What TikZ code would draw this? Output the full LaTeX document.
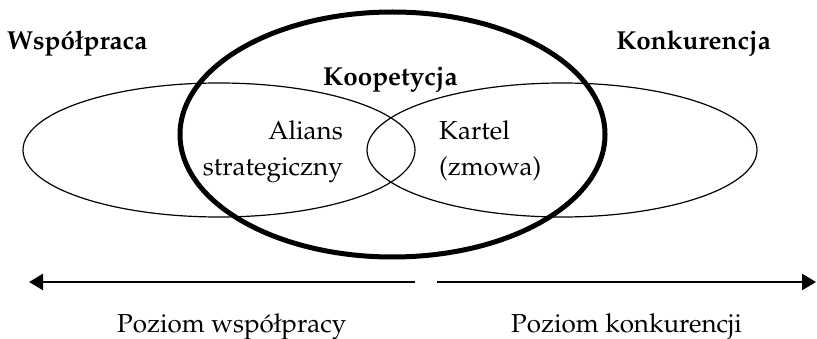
\documentclass[tikz,border=0pt]{standalone}
\usepackage[T1]{fontenc}
\usepackage{mathpazo}
\usetikzlibrary{arrows.meta}
\begin{document}
\begin{tikzpicture}[x=1pt,y=-1pt,
  thinell/.style={draw=black,line width=1.2pt},
  thickell/.style={draw=black,line width=5pt},
  levelarrow/.style={draw=black,line width=2.5pt,-{Triangle[length=14pt,width=16pt]}},
  lbl/.style={inner sep=0pt,font=\fontsize{26}{36}\selectfont},
  blbl/.style={lbl,font=\fontsize{26}{36}\selectfont\bfseries}]
\useasboundingbox (0,0) rectangle (817,339);
% ellipses
\draw[thinell] (219,150) ellipse [x radius=196, y radius=67];
\draw[thinell] (562,150) ellipse [x radius=195, y radius=67];
\draw[thickell] (392.5,134.5) ellipse [x radius=212.5, y radius=122.5];
% titles
\node[blbl,anchor=base west] (wsp) at (7,50) {Wsp\'o\l{}praca};
\node[blbl,anchor=base east] (konk) at (771,50) {Konkurencja};
\node[blbl,anchor=base west] (koop) at (323,86) {Koopetycja};
% inner labels
\node[lbl,anchor=north east,align=right] (alians) at (343,120) {Alians\\strategiczny};
\node[lbl,anchor=north west,align=left] (kartel) at (439,120) {Kartel\\(zmowa)};
% arrows
\coordinate (lstart) at (415,282);
\coordinate (lend) at (29,282);
\coordinate (rstart) at (437,282);
\coordinate (rend) at (816,282);
\draw[levelarrow] (lstart) -- (lend);
\draw[levelarrow] (rstart) -- (rend);
% bottom labels
\node[lbl,anchor=base west] (pw) at (117,332) {Poziom wsp\'o\l{}pracy};
\node[lbl,anchor=base east] (pk) at (742,332) {Poziom konkurencji};
\end{tikzpicture}
\end{document}
